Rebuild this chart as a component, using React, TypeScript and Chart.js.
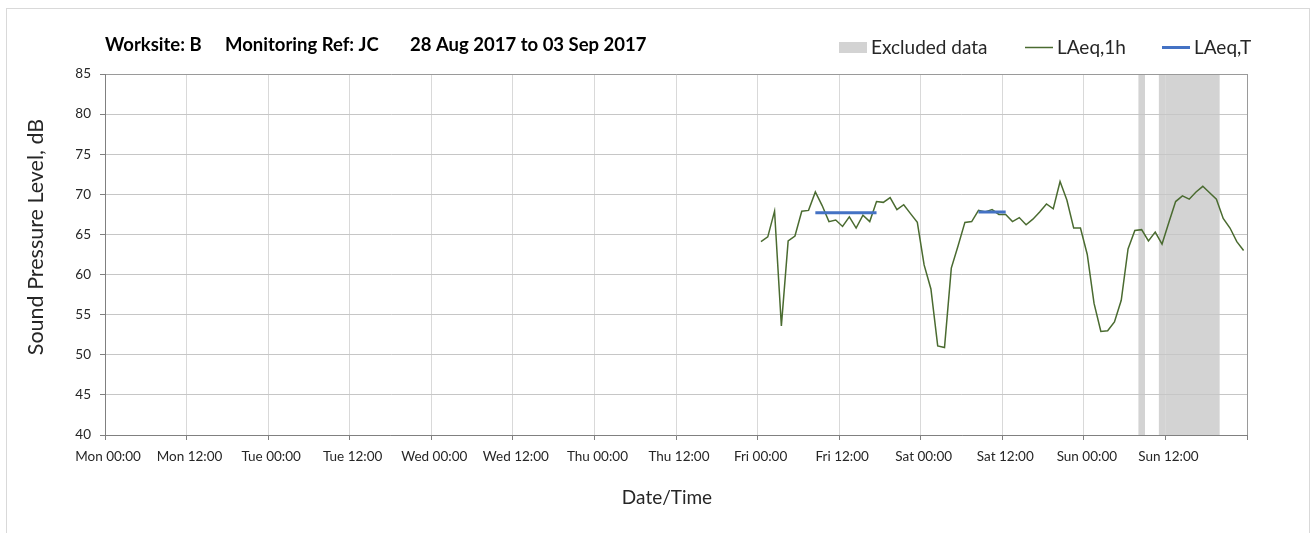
import React, { useEffect, useRef } from 'react';
import { Chart, registerables } from 'chart.js';

Chart.register(...registerables);

// ---------- data ----------
const dayNames = ['Mon', 'Tue', 'Wed', 'Thu', 'Fri', 'Sat', 'Sun'];
const xMinHour = 0;
const xMaxHour = 168;
const xStepHours = 12;
const yMin = 40;
const yMax = 85;
const yStep = 5;

// hourly LAeq,1h values, first value at Fri 00:30 (hours since Mon 00:00)
const laeq1hStartHour = 96.5;
const laeq1hValues = [
  64.1, 64.7, 67.9, 53.6, 64.2, 64.8, 67.9, 68.0, 70.3, 68.6,
  66.6, 66.8, 66.0, 67.2, 65.8, 67.4, 66.6, 69.1, 69.0, 69.6,
  68.1, 68.7, 67.6, 66.5, 61.2, 58.2, 51.1, 50.9, 60.8, 63.6,
  66.5, 66.6, 68.0, 67.8, 68.1, 67.5, 67.5, 66.6, 67.1, 66.2,
  66.9, 67.8, 68.8, 68.2, 71.6, 69.3, 65.8, 65.8, 62.5, 56.4,
  52.9, 53.0, 54.1, 56.8, 63.2, 65.5, 65.6, 64.2, 65.3, 63.8,
  66.5, 69.1, 69.8, 69.4, 70.3, 71.0, 70.2, 69.4, 67.0, 65.8,
  64.1, 63.0,
];

// LAeq,T periods
const laeqTStartHours = [104.5, 128.5];
const laeqTEndHours = [113.5, 132.5];
const laeqTValues = [67.7, 67.8];

// excluded data periods
const excludedStartHours = [152, 155];
const excludedEndHours = [153, 164];

const titleParts = ['Worksite: B', 'Monitoring Ref: JC', '28 Aug 2017 to 03 Sep 2017'];
const legendLabels = ['Excluded data', 'LAeq,1h', 'LAeq,T'];
const yAxisTitle = 'Sound Pressure Level, dB';
const xAxisTitle = 'Date/Time';

// ---------- styles ----------
const FONT = 'Lato, "Open Sans", sans-serif';
const GREEN = '#4A6B30';
const BLUE = '#4472C4';
const GREY_BAND = '#D3D3D3';
const TEXT = '#262626';

const textPlugin = {
  id: 'textPlugin',
  afterDraw(chart: any) {
    const ctx: CanvasRenderingContext2D = chart.ctx;
    const area = chart.chartArea;
    ctx.save();
    // title
    ctx.fillStyle = '#000';
    ctx.font = `bold 18.5px ${FONT}`;
    ctx.textAlign = 'left';
    ctx.textBaseline = 'alphabetic';
    const titleX = [area.left, area.left + 120, area.left + 305];
    titleParts.forEach((t, i) => ctx.fillText(t, titleX[i], 51));

    // legend
    const ly = 47.5;
    ctx.font = `19px ${FONT}`;
    ctx.textBaseline = 'middle';
    ctx.fillStyle = GREY_BAND;
    ctx.fillRect(839, 42, 28, 11);
    ctx.fillStyle = TEXT;
    ctx.fillText(legendLabels[0], 871, ly);

    ctx.strokeStyle = GREEN;
    ctx.lineWidth = 1.5;
    ctx.beginPath();
    ctx.moveTo(1025, ly);
    ctx.lineTo(1053, ly);
    ctx.stroke();
    ctx.fillText(legendLabels[1], 1057, ly);

    ctx.strokeStyle = BLUE;
    ctx.lineWidth = 3;
    ctx.beginPath();
    ctx.moveTo(1162, ly);
    ctx.lineTo(1190, ly);
    ctx.stroke();
    ctx.fillText(legendLabels[2], 1194, ly);

    // axis titles
    ctx.font = `19px ${FONT}`;
    ctx.textAlign = 'center';
    ctx.textBaseline = 'middle';
    ctx.fillText(xAxisTitle, 667, 498);
    ctx.font = `21.5px ${FONT}`;
    ctx.translate(36, 237);
    ctx.rotate(-Math.PI / 2);
    ctx.fillText(yAxisTitle, 0, 0);
    ctx.restore();
  },
};

export default function App() {
  const canvasRef = useRef<HTMLCanvasElement | null>(null);

  useEffect(() => {
    if (!canvasRef.current) return;

    const greenData = laeq1hValues.map((v, i) => ({ x: laeq1hStartHour + i, y: v }));
    const blueData: any[] = [];
    laeqTValues.forEach((v, i) => {
      blueData.push({ x: laeqTStartHours[i], y: v });
      blueData.push({ x: laeqTEndHours[i], y: v });
      blueData.push({ x: laeqTEndHours[i], y: null });
    });
    const bandData: any[] = [];
    excludedStartHours.forEach((s, i) => {
      bandData.push({ x: s, y: yMax });
      bandData.push({ x: excludedEndHours[i], y: yMax });
      bandData.push({ x: excludedEndHours[i], y: null });
    });

    const chart = new Chart(canvasRef.current, {
      type: 'line',
      data: {
        datasets: [
          {
            label: legendLabels[0],
            data: bandData,
            borderWidth: 0,
            borderColor: 'rgba(0,0,0,0)',
            backgroundColor: GREY_BAND,
            fill: 'start',
            pointRadius: 0,
            spanGaps: false,
            order: 3,
          },
          {
            label: legendLabels[1],
            data: greenData,
            borderColor: GREEN,
            borderWidth: 1.5,
            pointRadius: 0,
            tension: 0,
            fill: false,
            order: 2,
          },
          {
            label: legendLabels[2],
            data: blueData,
            borderColor: BLUE,
            borderWidth: 3,
            pointRadius: 0,
            spanGaps: false,
            fill: false,
            order: 1,
          },
        ],
      } as any,
      options: {
        animation: false,
        responsive: false,
        events: [],
        layout: { padding: { top: 74, right: 64, left: 0, bottom: 0 } },
        plugins: {
          legend: { display: false },
          title: { display: false },
          tooltip: { enabled: false },
          filler: { drawTime: 'beforeDraw' },
        } as any,
        scales: {
          x: {
            type: 'linear',
            min: xMinHour,
            max: xMaxHour,
            afterFit: (s: any) => {
              s.height = 98;
            },
            ticks: {
              stepSize: xStepHours,
              autoSkip: false,
              maxRotation: 0,
              minRotation: 0,
              padding: 9,
              labelOffset: 3,
              color: '#262626',
              font: { family: FONT, size: 13.5 },
              callback: (v: any) => {
                const h = Number(v);
                if (h >= xMaxHour) return '';
                const d = dayNames[Math.floor(h / 24)];
                const hh = String(h % 24).padStart(2, '0');
                return `${d} ${hh}:00`;
              },
            },
            grid: {
              color: (c: any) => (c.tick && c.tick.value === xMaxHour ? '#9a9a9a' : '#d9d9d9'),
              tickColor: '#808080',
              tickLength: 5,
              lineWidth: 1,
            },
            border: { color: '#808080', width: 1 },
          },
          y: {
            min: yMin,
            max: yMax,
            afterFit: (s: any) => {
              s.width = 105;
            },
            ticks: {
              stepSize: yStep,
              padding: 9,
              color: '#262626',
              font: { family: FONT, size: 13.5 },
            },
            grid: {
              color: (c: any) => (c.tick && c.tick.value === yMax ? '#9a9a9a' : '#c6c6c6'),
              tickColor: '#808080',
              tickLength: 5,
              lineWidth: 1,
            },
            border: { color: '#808080', width: 1 },
          },
        },
      } as any,
      plugins: [textPlugin],
    });

    return () => chart.destroy();
  }, []);

  return (
    <div style={{ position: 'absolute', left: 0, top: 0, width: 1311, height: 533, overflow: 'hidden', background: '#fff' }}>
      <canvas
        ref={canvasRef}
        width={1311}
        height={533}
        style={{ position: 'absolute', left: 0, top: 0, width: 1311, height: 533 }}
      />
      <div
        style={{
          position: 'absolute',
          left: 6,
          top: 8,
          width: 1304,
          height: 525,
          boxSizing: 'border-box',
          borderTop: '1px solid #d9d9d9',
          borderLeft: '1px solid #d9d9d9',
          borderRight: '1px solid #d9d9d9',
          pointerEvents: 'none',
        }}
      />
    </div>
  );
}
